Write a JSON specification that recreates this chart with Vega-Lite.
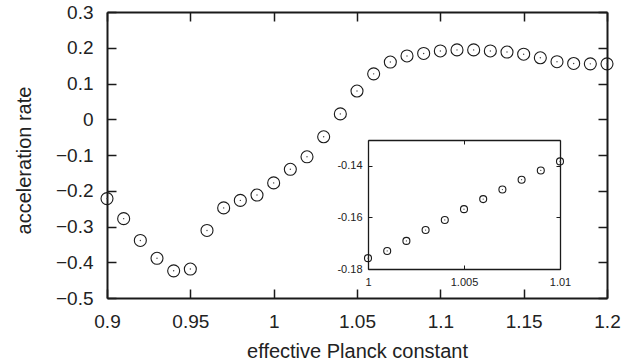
{
  "$schema": "https://vega.github.io/schema/vega-lite/v6.json",
  "width": 500,
  "height": 286,
  "autosize": {"type": "none"},
  "padding": {"left": 107, "top": 12, "right": 29, "bottom": 66},
  "background": "white",
  "config": {
    "view": {"stroke": null},
    "axis": {
      "grid": false,
      "domainColor": "#1a1a1a",
      "domainWidth": 2,
      "tickColor": "#1a1a1a",
      "tickWidth": 1.5,
      "labelFont": "Liberation Sans",
      "titleFont": "Liberation Sans",
      "labelColor": "#222",
      "titleColor": "#222",
      "titleFontWeight": "normal",
      "labelFlush": false,
      "labelOverlap": false
    }
  },
  "datasets": {
    "main": [
      {"h": 0.90, "rate": -0.222},
      {"h": 0.91, "rate": -0.278},
      {"h": 0.92, "rate": -0.339},
      {"h": 0.93, "rate": -0.389},
      {"h": 0.94, "rate": -0.424},
      {"h": 0.95, "rate": -0.419},
      {"h": 0.96, "rate": -0.311},
      {"h": 0.97, "rate": -0.248},
      {"h": 0.98, "rate": -0.227},
      {"h": 0.99, "rate": -0.212},
      {"h": 1.00, "rate": -0.178},
      {"h": 1.01, "rate": -0.140},
      {"h": 1.02, "rate": -0.105},
      {"h": 1.03, "rate": -0.049},
      {"h": 1.04, "rate": 0.015},
      {"h": 1.05, "rate": 0.079},
      {"h": 1.06, "rate": 0.127},
      {"h": 1.07, "rate": 0.160},
      {"h": 1.08, "rate": 0.177},
      {"h": 1.09, "rate": 0.184},
      {"h": 1.10, "rate": 0.191},
      {"h": 1.11, "rate": 0.194},
      {"h": 1.12, "rate": 0.194},
      {"h": 1.13, "rate": 0.191},
      {"h": 1.14, "rate": 0.188},
      {"h": 1.15, "rate": 0.182},
      {"h": 1.16, "rate": 0.172},
      {"h": 1.17, "rate": 0.161},
      {"h": 1.18, "rate": 0.156},
      {"h": 1.19, "rate": 0.155},
      {"h": 1.20, "rate": 0.155}
    ],
    "inset": [
      {"h": 1.000, "rate": -0.1758},
      {"h": 1.001, "rate": -0.1730},
      {"h": 1.002, "rate": -0.1691},
      {"h": 1.003, "rate": -0.1649},
      {"h": 1.004, "rate": -0.1610},
      {"h": 1.005, "rate": -0.1568},
      {"h": 1.006, "rate": -0.1529},
      {"h": 1.007, "rate": -0.1492},
      {"h": 1.008, "rate": -0.1454},
      {"h": 1.009, "rate": -0.1418},
      {"h": 1.010, "rate": -0.1383}
    ]
  },
  "layer": [
    {
      "data": {"name": "main"},
      "mark": {"type": "point", "shape": "circle", "size": 144, "stroke": "#1a1a1a", "strokeWidth": 1.1, "filled": false, "opacity": 1},
      "encoding": {
        "x": {
          "field": "h", "type": "quantitative",
          "scale": {"domain": [0.9, 1.2], "nice": false, "zero": false},
          "axis": {
            "orient": "bottom", "values": [0.9, 0.95, 1, 1.05, 1.1, 1.15, 1.2], "format": "~g",
            "tickSize": -9, "labelPadding": 23, "labelFontSize": 19,
            "title": "effective Planck constant", "titleFontSize": 20,
            "titleBaseline": "alphabetic", "titleY": 59
          }
        },
        "y": {
          "field": "rate", "type": "quantitative",
          "scale": {"domain": [-0.5, 0.3], "nice": false, "zero": false},
          "axis": {
            "orient": "left", "values": [-0.5, -0.4, -0.3, -0.2, -0.1, 0, 0.1, 0.2, 0.3], "format": "~g",
            "tickSize": -9, "labelPadding": 23, "labelFontSize": 19,
            "title": "acceleration rate", "titleFontSize": 20,
            "titleBaseline": "alphabetic", "titleX": -77, "titleY": 148, "titleAngle": -90
          }
        }
      }
    },
    {
      "data": {"name": "main"},
      "mark": {"type": "point", "shape": "circle", "size": 2, "filled": true, "color": "#444", "opacity": 1},
      "encoding": {
        "x": {
          "field": "h", "type": "quantitative",
          "scale": {"domain": [0.9, 1.2], "nice": false, "zero": false},
          "axis": {"orient": "top", "values": [0.9, 0.95, 1, 1.05, 1.1, 1.15, 1.2], "labels": false, "title": null, "tickSize": -9}
        },
        "y": {
          "field": "rate", "type": "quantitative",
          "scale": {"domain": [-0.5, 0.3], "nice": false, "zero": false},
          "axis": {"orient": "right", "values": [-0.5, -0.4, -0.3, -0.2, -0.1, 0, 0.1, 0.2, 0.3], "labels": false, "title": null, "tickSize": -9}
        }
      }
    },
    {
      "data": {"name": "inset"},
      "mark": {"type": "point", "shape": "circle", "size": 49, "stroke": "#1a1a1a", "strokeWidth": 1.1, "filled": false, "opacity": 1},
      "encoding": {
        "x": {
          "field": "h", "type": "quantitative",
          "scale": {"domain": [1, 1.01], "range": [261, 453], "nice": false, "zero": false},
          "axis": {
            "orient": "bottom", "offset": -29, "values": [1, 1.005, 1.01], "format": "~g",
            "tickSize": -4, "labelPadding": 11, "labelFontSize": 11, "title": null,
            "domainWidth": 1.3, "tickWidth": 1
          }
        },
        "y": {
          "field": "rate", "type": "quantitative",
          "scale": {"domain": [-0.18, -0.13], "range": [257, 128], "nice": false, "zero": false},
          "axis": {
            "orient": "left", "offset": -261, "values": [-0.18, -0.16, -0.14], "format": "~g",
            "labelExpr": "replace(datum.label, '\u2212', '-')",
            "tickSize": -4, "labelPadding": 10, "labelFontSize": 11, "title": null,
            "domainWidth": 1.3, "tickWidth": 1
          }
        }
      }
    },
    {
      "data": {"name": "inset"},
      "mark": {"type": "point", "shape": "circle", "size": 1.5, "filled": true, "color": "#444", "opacity": 1},
      "encoding": {
        "x": {
          "field": "h", "type": "quantitative",
          "scale": {"domain": [1, 1.01], "range": [261, 453], "nice": false, "zero": false},
          "axis": {"orient": "top", "offset": -128, "values": [1, 1.005, 1.01], "labels": false, "title": null, "tickSize": -4, "domainWidth": 1.3, "tickWidth": 1}
        },
        "y": {
          "field": "rate", "type": "quantitative",
          "scale": {"domain": [-0.18, -0.13], "range": [257, 128], "nice": false, "zero": false},
          "axis": {"orient": "right", "offset": -47, "values": [-0.18, -0.16, -0.14], "labels": false, "title": null, "tickSize": -4, "domainWidth": 1.3, "tickWidth": 1}
        }
      }
    }
  ],
  "resolve": {
    "scale": {"x": "independent", "y": "independent"},
    "axis": {"x": "independent", "y": "independent"}
  }
}
